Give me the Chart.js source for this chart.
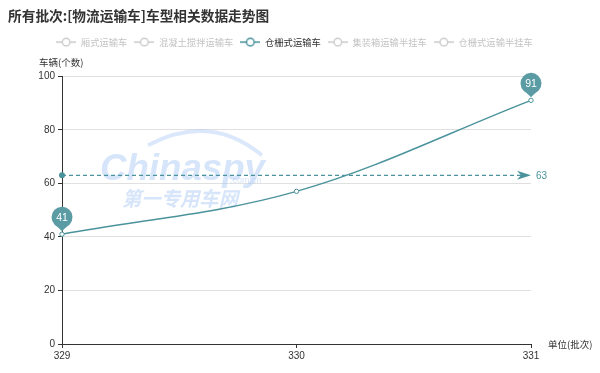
<!DOCTYPE html>
<html>
<head>
<meta charset="utf-8">
<script src="https://cdn.jsdelivr.net/npm/chart.js@4.4.1/dist/chart.umd.min.js"></script>
<style>
  html, body { margin: 0; padding: 0; background: #fff; }
  #wrap { width: 600px; height: 373px; position: relative; }
</style>
</head>
<body>
<div id="wrap"><canvas id="trend"></canvas></div>
<script>
var batches = ['329', '330', '331'];
var seriesNames = ['厢式运输车', '混凝土搅拌运输车', '仓栅式运输车', '集装箱运输半挂车', '仓栅式运输半挂车'];
var shownSeries = '仓栅式运输车';
var cangzhaValues = [41, 57, 91];
var yTicks = [0, 20, 40, 60, 80, 100];
var titleText = '所有批次:[物流运输车]车型相关数据走势图';
var yName = '车辆(个数)';
var xName = '单位(批次)';

var teal = '#4b939c';
var pinColor = '#5a9ba4';
var cjk = "'Noto Sans CJK SC', sans-serif";
var num = "'Liberation Sans', Arial, sans-serif";

// small "-o-" icon for the legend
function legendIcon(color) {
  var c = document.createElement('canvas');
  c.width = 20; c.height = 10;
  var g = c.getContext('2d');
  g.strokeStyle = color; g.lineWidth = 1.4;
  g.beginPath(); g.moveTo(0, 5); g.lineTo(6, 5); g.moveTo(14, 5); g.lineTo(20, 5); g.stroke();
  g.beginPath(); g.arc(10, 5, 3.8, 0, Math.PI * 2);
  g.fillStyle = '#fff'; g.fill(); g.stroke();
  return c;
}
var iconOn = legendIcon(teal);
var iconOff = legendIcon('#cccccc');

function drawPin(ctx, cx, py, text) {
  var r = 10.5, cy = py - 17, a = 0.75;
  ctx.save();
  ctx.fillStyle = pinColor;
  ctx.beginPath();
  ctx.arc(cx, cy, r, Math.PI / 2 + a, Math.PI / 2 - a);
  ctx.quadraticCurveTo(cx + 2, cy + r + 1, cx, py - 3);
  ctx.quadraticCurveTo(cx - 2, cy + r + 1, cx - r * Math.sin(a), cy + r * Math.cos(a));
  ctx.closePath();
  ctx.fill();
  ctx.fillStyle = '#fff';
  ctx.font = '10.5px ' + num;
  ctx.textAlign = 'center';
  ctx.textBaseline = 'middle';
  ctx.fillText(text, cx, cy + 1);
  ctx.restore();
}

var extras = {
  id: 'extras',
  beforeInit: function (chart) {
    var fit = chart.legend.fit;
    chart.legend.fit = function () {
      fit.bind(chart.legend)();
      this.height += 19.5;
    };
  },
  afterLayout: function (chart) {
    // legend sits a bit right of the plot centre
    chart.legend.right += 50;
  },
  beforeDatasetsDraw: function (chart) {
    // watermark
    var ctx = chart.ctx, ca = chart.chartArea;
    var wx = ca.left + 38, wy = ca.top + 94;
    ctx.save();
    ctx.fillStyle = 'rgba(165,198,245,0.45)';
    ctx.strokeStyle = 'rgba(165,198,245,0.4)';
    ctx.lineWidth = 4;
    ctx.beginPath();
    ctx.moveTo(wx + 48, wy - 25);
    ctx.quadraticCurveTo(wx + 110, wy - 58, wx + 162, wy - 15);
    ctx.stroke();
    ctx.font = '9px ' + num;
    ctx.fillText('.com.cn', wx + 130, wy + 10);
    ctx.font = 'italic bold 20px ' + cjk;
    ctx.fillText('第一专用车网', wx + 22, wy + 28, 116);
    ctx.font = 'italic bold 37px ' + num;
    ctx.fillText('Chinaspy', wx, wy, 165);
    ctx.restore();
  },
  afterDatasetsDraw: function (chart) {
    var ctx = chart.ctx, ca = chart.chartArea;
    var xs = chart.scales.x, ys = chart.scales.y;
    var vals = cangzhaValues;
    var avg = vals.reduce(function (s, v) { return s + v; }, 0) / vals.length;
    var ay = ys.getPixelForValue(avg);
    ctx.save();
    // average line
    ctx.strokeStyle = teal; ctx.fillStyle = teal; ctx.lineWidth = 1.2;
    ctx.setLineDash([4, 3]);
    ctx.beginPath(); ctx.moveTo(ca.left, ay); ctx.lineTo(ca.right - 8, ay); ctx.stroke();
    ctx.setLineDash([]);
    ctx.beginPath(); ctx.arc(ca.left, ay, 3, 0, Math.PI * 2); ctx.fill();
    ctx.beginPath();
    ctx.moveTo(ca.right, ay);
    ctx.lineTo(ca.right - 14, ay - 4.5);
    ctx.lineTo(ca.right - 10, ay);
    ctx.lineTo(ca.right - 14, ay + 4.5);
    ctx.closePath(); ctx.fill();
    ctx.font = '10px ' + num;
    ctx.textBaseline = 'middle';
    ctx.fillText(String(Math.round(avg)), ca.right + 5, ay + 1);
    // axis names
    ctx.fillStyle = '#333';
    ctx.font = '9.5px ' + cjk;
    ctx.fillText(yName, ca.left - 23, ca.top - 14);
    ctx.fillText(xName, ca.right + 17, ca.bottom);
    ctx.restore();
    // max / min pins
    var maxV = Math.max.apply(null, vals), minV = Math.min.apply(null, vals);
    [maxV, minV].forEach(function (v) {
      var i = vals.indexOf(v);
      drawPin(ctx, xs.getPixelForValue(i), ys.getPixelForValue(v), String(v));
    });
  }
};

var datasets = seriesNames.map(function (name) {
  var on = name === shownSeries;
  return {
    label: name,
    data: on ? cangzhaValues : [],
    hidden: !on,
    borderColor: teal,
    borderWidth: 1.5,
    tension: 0.35,
    pointRadius: 2.2,
    pointBackgroundColor: '#fff',
    pointBorderColor: teal,
    pointBorderWidth: 1,
    fill: false,
    clip: false
  };
});

new Chart(document.getElementById('trend'), {
  type: 'line',
  data: { labels: batches, datasets: datasets },
  plugins: [extras],
  options: {
    responsive: true,
    maintainAspectRatio: false,
    animation: false,
    layout: { padding: { top: 8, left: 8, right: 69, bottom: 0 } },
    plugins: {
      tooltip: { enabled: false },
      title: {
        display: true,
        text: titleText,
        align: 'start',
        color: '#333',
        font: { family: cjk, size: 13.7, weight: 'bold' },
        padding: { top: 0, bottom: 6 }
      },
      legend: {
        display: true,
        labels: {
          usePointStyle: true,
          pointStyleWidth: 20,
          padding: 7,
          font: { family: cjk, size: 9.3 },
          generateLabels: function (chart) {
            return chart.data.datasets.map(function (ds, i) {
              return {
                text: ds.label,
                fontColor: ds.hidden ? '#c4c4c4' : '#333',
                pointStyle: ds.hidden ? iconOff : iconOn,
                hidden: false,
                datasetIndex: i,
                lineWidth: 0,
                strokeStyle: 'rgba(0,0,0,0)',
                fillStyle: 'rgba(0,0,0,0)'
              };
            });
          }
        }
      }
    },
    scales: {
      x: {
        afterFit: function (s) { s.height = 29; },
        grid: { drawOnChartArea: false, drawTicks: true, tickLength: 4, tickColor: '#333' },
        border: { color: '#333', width: 1 },
        ticks: { color: '#333', padding: 2, maxRotation: 0, font: { family: num, size: 10 } }
      },
      y: {
        min: 0,
        max: 100,
        afterFit: function (s) { s.width = 54; },
        afterBuildTicks: function (s) { s.ticks = yTicks.map(function (v) { return { value: v }; }); },
        grid: { color: '#e0e0e0', tickLength: 4, tickColor: '#333' },
        border: { color: '#333', width: 1 },
        ticks: { color: '#333', padding: 3, font: { family: num, size: 10 } }
      }
    }
  }
});
</script>
</body>
</html>
